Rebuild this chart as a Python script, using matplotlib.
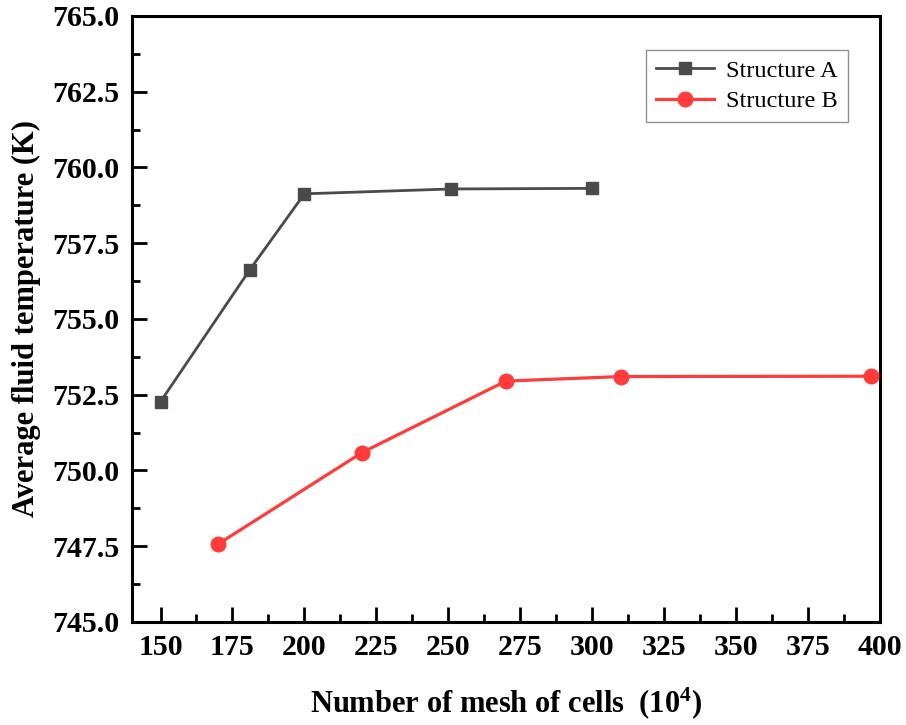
import matplotlib
matplotlib.use("Agg")
import matplotlib.pyplot as plt
from matplotlib.ticker import MultipleLocator

plt.rcParams['font.family'] = ['Liberation Serif', 'DejaVu Serif']
plt.rcParams['mathtext.fontset'] = 'custom'
plt.rcParams['mathtext.rm'] = 'Liberation Serif:bold'
plt.rcParams['mathtext.bf'] = 'Liberation Serif:bold'
plt.rcParams['mathtext.default'] = 'bf'

# mesh size (x10^4 cells) and average fluid temperature (K)
mesh_a = [150, 181, 200, 251, 300]
temp_a = [752.27, 756.62, 759.13, 759.29, 759.31]

mesh_b = [170, 220, 270, 310, 397]
temp_b = [747.57, 750.59, 752.95, 753.1, 753.11]

x_ticks = [150, 175, 200, 225, 250, 275, 300, 325, 350, 375, 400]
y_ticks = [745.0, 747.5, 750.0, 752.5, 755.0, 757.5, 760.0, 762.5, 765.0]

fig = plt.figure(figsize=(9.06, 7.25), dpi=100)
ax = fig.add_axes([0.1454, 0.1421, 0.8259, 0.8359])

ax.plot(mesh_a, temp_a, color='#4a4a4a', lw=2.0, marker='s', ms=8.5,
        label='Structure A', clip_on=False, zorder=3)
ax.plot(mesh_b, temp_b, color='#ff3b3b', lw=2.3, marker='o', ms=10.5,
        label='Structure B', clip_on=False, zorder=3)

ax.set_xlim(140, 400)
ax.set_ylim(745, 765)
ax.set_xticks(x_ticks)
ax.set_yticks(y_ticks)
ax.xaxis.set_minor_locator(MultipleLocator(12.5))
ax.yaxis.set_minor_locator(MultipleLocator(1.25))
ax.set_yticklabels([f'{v:.1f}' for v in y_ticks])

ax.tick_params(which='both', direction='in', width=2, top=False, right=False)
ax.tick_params(which='major', length=11, labelsize=21.5, pad=9)
ax.tick_params(which='minor', length=6)
for lab in ax.get_xticklabels() + ax.get_yticklabels():
    lab.set_fontweight('bold')

for sp in ax.spines.values():
    sp.set_linewidth(2.2)

ax.set_xlabel('Number of mesh of cells  (10$^{4}$)', fontsize=22,
              fontweight='bold', labelpad=17)
ax.set_ylabel('Average fluid temperature (K)', fontsize=22,
              fontweight='bold', labelpad=8)

leg = ax.legend(loc='upper right', bbox_to_anchor=(0.957, 0.944), fontsize=17.5,
                frameon=True, fancybox=False, edgecolor='#777777',
                handlelength=2.4, borderpad=0.4, labelspacing=0.35,
                handletextpad=0.5, borderaxespad=0)
leg.get_frame().set_linewidth(1.0)

fig.savefig('out.png', dpi=100)
